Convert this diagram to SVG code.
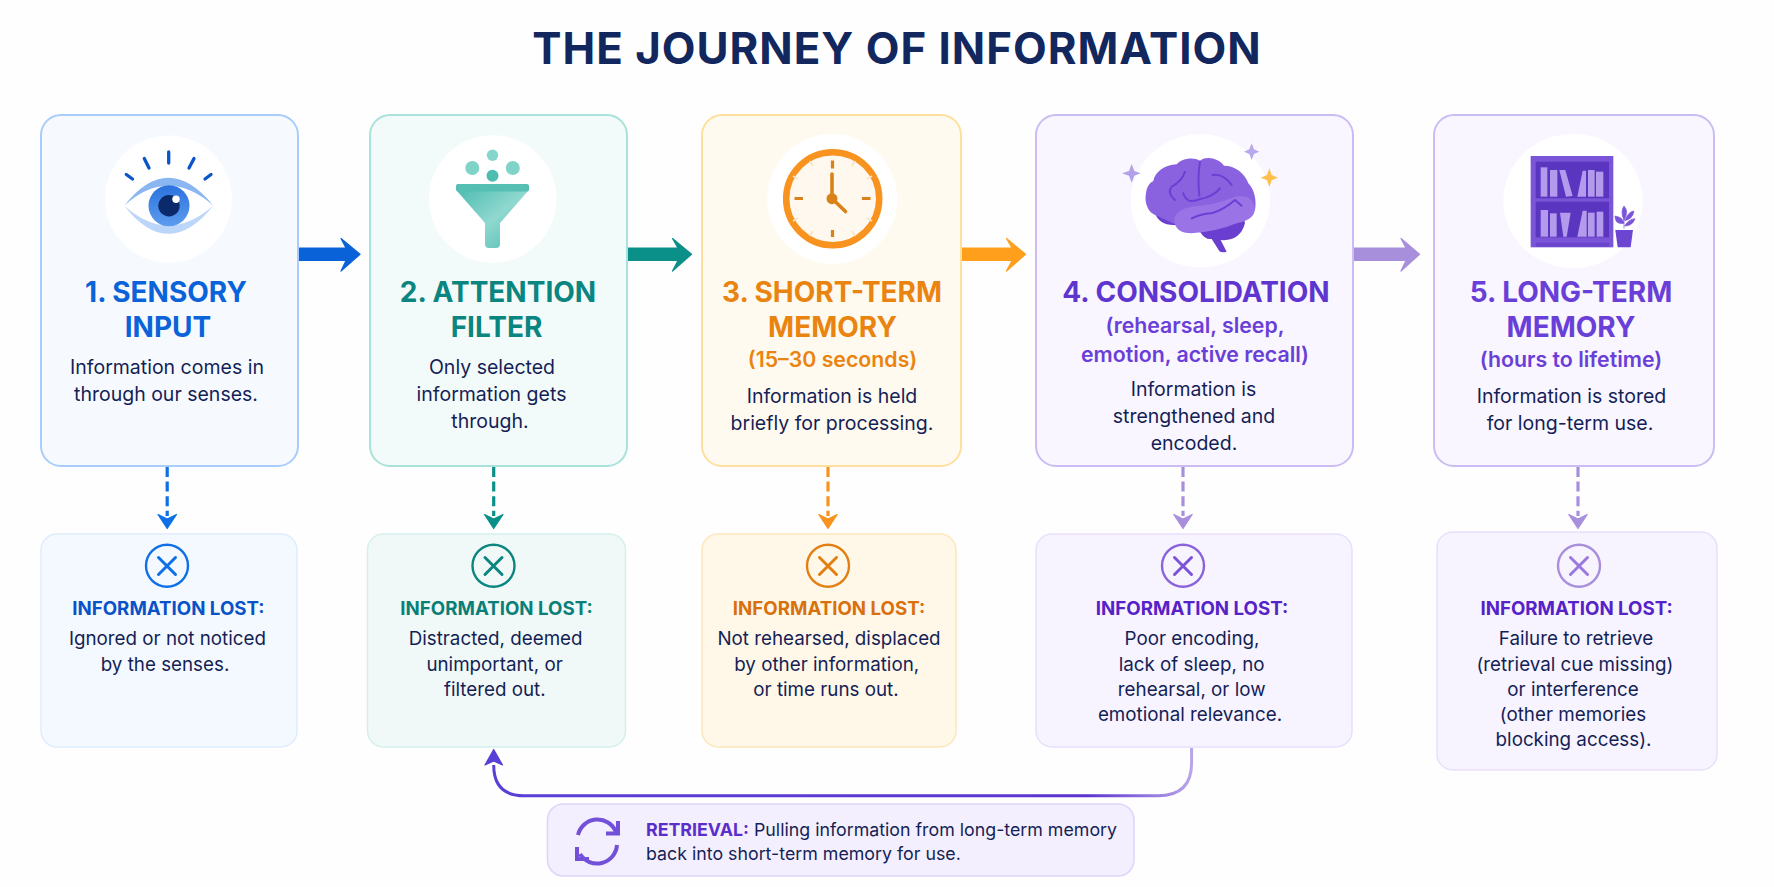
<svg xmlns="http://www.w3.org/2000/svg" width="1774" height="887" viewBox="0 0 1774 887">
<style>
text{font-family:"Inter","Liberation Sans",sans-serif;text-anchor:middle}
.title{font-size:43.800px;font-weight:700;fill:#12275e;letter-spacing:1px}
.h{font-size:28px;font-weight:700}
.s{font-size:21.300px;font-weight:600}
.b{font-size:19.500px;font-weight:400;fill:#141f56}
.l{font-size:18.700px;font-weight:700}
.d{font-size:18.800px;font-weight:400;fill:#141f56}
.r{font-size:17.800px;font-weight:400;fill:#141f56;text-anchor:start}
.card{stroke-width:2}
.loss{stroke-width:1.500}
.disc{fill:#fff}
.dash{fill:none;stroke-width:3.200;stroke-dasharray:10 4.600}
.x{fill:none;stroke-width:2.400}
.xx{fill:none;stroke-width:3;stroke-linecap:round}
.sulc{fill:none;stroke:#6b3fd3;stroke-width:6;stroke-linecap:round;stroke-linejoin:round}
.bk{fill:#b39aec}
.tip{stroke-width:1.200;stroke-linejoin:round}
</style>
<defs>
<linearGradient id="iris" x1="0" y1="0" x2="0" y2="1"><stop offset="0" stop-color="#2a72de"/><stop offset="1" stop-color="#5d9cee"/></linearGradient>
<linearGradient id="cone" x1="0" y1="0" x2="1" y2="1"><stop offset="0" stop-color="#4fbdb2"/><stop offset="0.5" stop-color="#8fd8cf"/><stop offset="1" stop-color="#4fbdb2"/></linearGradient>
<linearGradient id="ret" gradientUnits="userSpaceOnUse" x1="494" y1="0" x2="1192" y2="0"><stop offset="0" stop-color="#5a3fd6"/><stop offset="0.85" stop-color="#5b34d1"/><stop offset="1" stop-color="#b9a5e8"/></linearGradient>
</defs>
<rect width="1774" height="887" fill="#fefefe"/>
<text id="title" class="title" x="897" y="64">THE JOURNEY OF INFORMATION</text>

<g id="connectors">
<path class="tip" stroke="#0a62d8" d="M299 248H346L341 238.500L360 254.300L341 271L346 260.500H299Z" fill="#0a62d8"/>
<path class="tip" stroke="#0b8f89" d="M627.500 248H678L672.500 238.500L691.500 254.300L672.500 271L678 260.500H627.500Z" fill="#0b8f89"/>
<path class="tip" stroke="#ff9f1c" d="M962 248H1012L1006.500 238.500L1025.500 254.300L1006.500 271L1012 260.500H962Z" fill="#ff9f1c"/>
<path class="tip" stroke="#a88fdc" d="M1354 248H1406L1401 238.500L1419.500 254.300L1401 271L1406 260.500H1354Z" fill="#a88fdc"/>
<path class="dash" stroke="#0f6fe6" d="M167.200 467V516"/><path class="tip" stroke="#0f6fe6" d="M158 514.500L167.200 519L176.500 514.500L167.200 528.500Z" fill="#0f6fe6"/>
<path class="dash" stroke="#0b8f89" d="M493.700 467V516"/><path class="tip" stroke="#0b8f89" d="M484.500 514.500L493.700 519L503 514.500L493.700 528.500Z" fill="#0b8f89"/>
<path class="dash" stroke="#f7931e" d="M828 467V516"/><path class="tip" stroke="#f7931e" d="M818.800 514.500L828 519L837.200 514.500L828 528.500Z" fill="#f7931e"/>
<path class="dash" stroke="#a88fdc" d="M1183 467V516"/><path class="tip" stroke="#a88fdc" d="M1173.800 514.500L1183 519L1192.200 514.500L1183 528.500Z" fill="#a88fdc"/>
<path class="dash" stroke="#a88fdc" d="M1578 467V516"/><path class="tip" stroke="#a88fdc" d="M1568.800 514.500L1578 519L1587.200 514.500L1578 528.500Z" fill="#a88fdc"/>
<path d="M1191.600 748V763Q1191.600 795.700 1158 795.700H524Q493.700 795.700 493.700 765" fill="none" stroke="url(#ret)" stroke-width="3"/>
<path class="tip" stroke="#5a3fd6" d="M493.700 749.500L502.500 765L493.700 761L485 765Z" fill="#5a3fd6"/>
</g>

<g id="card1">
<rect class="card" x="41" y="115" width="257" height="351" rx="20" fill="#f6faff" stroke="#a9cdfb"/>
<circle class="disc" cx="168.400" cy="199" r="63.500"/>
<g fill="none" stroke="#0a55c8" stroke-width="3.300" stroke-linecap="round">
<path d="M168.700 152V163M144.300 158.500L149 168M194 158.500L189 168M126.300 174.500L132.500 179M211 174.500L205 179"/></g>
<path d="M124.300 205.700Q168 150 213.300 205.700Q168 166 124.300 205.700Z" fill="#8ab6f2"/>
<path d="M124.300 205.700Q168 262 213.300 205.700Q168 245 124.300 205.700Z" fill="#bcd6fa"/>
<circle cx="169" cy="205.700" r="20.500" fill="url(#iris)"/>
<circle cx="169" cy="205.700" r="10.700" fill="#0b2a6b"/>
<circle cx="176" cy="199.300" r="3.700" fill="#fff"/>
<text class="h" x="166" y="302" fill="#0b63d9">1. SENSORY</text>
<text class="h" x="168" y="337" fill="#0b63d9">INPUT</text>
<text class="b" x="167" y="374">Information comes in</text>
<text class="b" x="166" y="401">through our senses.</text>
</g>

<g id="card2">
<rect class="card" x="370" y="115" width="257" height="351" rx="20" fill="#f3fbfa" stroke="#a8e2da"/>
<circle class="disc" cx="492.700" cy="199" r="63.800"/>
<circle cx="492.500" cy="155.300" r="5.700" fill="#86d5cc"/>
<circle cx="472.300" cy="168" r="7" fill="#7fd3c9"/>
<circle cx="512.800" cy="168" r="7" fill="#7fd3c9"/>
<circle cx="492.500" cy="175.700" r="6" fill="#4dbdb2"/>
<path d="M457 191L485 223V244Q485 248 489 248H496Q500 248 500 244V223L528 191Z" fill="url(#cone)"/>
<rect x="456" y="184" width="73" height="7.500" rx="2" fill="#55bfb4"/>
<text class="h" x="498" y="302" fill="#0a8580">2. ATTENTION</text>
<text class="h" x="496.500" y="337" fill="#0a8580">FILTER</text>
<text class="b" x="492" y="374">Only selected</text>
<text class="b" x="491.500" y="401">information gets</text>
<text class="b" x="490" y="428">through.</text>
</g>

<g id="card3">
<rect class="card" x="702" y="115" width="259" height="351" rx="20" fill="#fffaf0" stroke="#ffdf9e"/>
<circle class="disc" cx="832.300" cy="199" r="65"/>
<circle cx="832.700" cy="198.700" r="46.500" fill="#fff8ee" stroke="#f7931e" stroke-width="6.500"/>
<g stroke="#fbe4c4" stroke-width="2"><path d="M855 161L852 166M872 176L867 179M872 221L867 218M855 236L852 231M810 236L813 231M793 221L798 218M793 176L798 179M810 161L813 166"/></g>
<g stroke="#d8821c" stroke-width="3.200"><path d="M832.500 160.500V168.500M832.500 230V237M794.500 198.500H803M862 198.500H870.500"/></g>
<path d="M832 174V198.500L845.500 211.500" fill="none" stroke="#d9821a" stroke-width="3.600" stroke-linecap="round"/>
<circle cx="832" cy="198.700" r="5.500" fill="#d9821a"/>
<text class="h" x="832" y="302" fill="#ea8410">3. SHORT-TERM</text>
<text class="h" x="832.500" y="337" fill="#ea8410">MEMORY</text>
<text class="s" x="832.500" y="366.500" fill="#ea8410">(15–30 seconds)</text>
<text class="b" x="832" y="403">Information is held</text>
<text class="b" x="832" y="430">briefly for processing.</text>
</g>

<g id="card4">
<rect class="card" x="1036" y="115" width="317" height="351" rx="20" fill="#f9f6ff" stroke="#cbbdf4"/>
<ellipse class="disc" cx="1200.400" cy="200.800" rx="69.600" ry="66.600"/>
<g transform="translate(1120 125) scale(0.3333)">
<path d="M105 265Q118 302 165 300L240 320Q255 345 275 342L298 378Q305 384 320 380L302 345Q360 350 375 295L370 270Z" fill="#6a3fd0"/>
<path d="M110 272C85 265 72 235 78 205C80 185 90 172 100 168C105 140 135 120 170 118C185 100 220 95 240 107C260 92 295 100 312 122C345 122 375 145 385 175C405 195 410 230 405 255L290 300L170 300Z" fill="#8a62e0"/>
<path d="M163 285Q165 255 215 245Q290 240 345 215Q395 205 405 250Q405 285 350 295Q290 320 215 325Q165 325 163 285Z" fill="#9a74e6"/>
<path class="sulc" d="M240 110Q232 160 238 212M195 140Q185 170 155 185Q140 205 165 225M190 205Q200 240 240 222Q280 215 300 190M278 150Q310 145 335 180M215 280Q250 265 275 265Q310 255 345 225L365 242"/>
<path d="M35 117L43 138L62 145L43 152L35 173L27 152L6 145L27 138Z" fill="#b3a0e8"/>
<path d="M395 55L402 73L418 80L402 87L395 105L388 87L372 80L388 73Z" fill="#b9a8ec"/>
<path d="M448 130L455 150L474 158L455 166L448 186L441 166L422 158L441 150Z" fill="#ffc04d"/>
</g>
<text class="h" x="1196" y="302" fill="#5f35d0">4. CONSOLIDATION</text>
<text class="s" x="1195" y="333" fill="#6a3fd8">(rehearsal, sleep,</text>
<text class="s" x="1195" y="361.500" fill="#6a3fd8">emotion, active recall)</text>
<text class="b" x="1193.500" y="396">Information is</text>
<text class="b" x="1194" y="423">strengthened and</text>
<text class="b" x="1194" y="449.500">encoded.</text>
</g>

<g id="card5">
<rect class="card" x="1434" y="115" width="280" height="351" rx="20" fill="#f9f6ff" stroke="#cbbdf4"/>
<ellipse class="disc" cx="1573" cy="201" rx="69.700" ry="67"/>
<g transform="translate(1500 130) scale(0.3333)">
<rect x="92" y="78" width="248" height="274" fill="#7a55d8"/>
<rect x="107" y="95" width="220" height="110" fill="#5a35bf"/>
<rect x="107" y="215" width="220" height="107" fill="#5a35bf"/>
<rect x="107" y="338" width="220" height="12" fill="#6a44cc"/>
<rect class="bk" x="122" y="112" width="20" height="88"/>
<rect class="bk" x="150" y="120" width="22" height="80"/>
<path class="bk" d="M178 120H196L218 198L198 200Z"/>
<path class="bk" d="M248 122H258V200H232Z"/>
<rect class="bk" x="264" y="120" width="20" height="80"/>
<rect class="bk" x="288" y="125" width="22" height="75"/>
<rect class="bk" x="122" y="240" width="22" height="80"/>
<rect class="bk" x="150" y="250" width="20" height="70"/>
<path class="bk" d="M180 248H212L200 320H190Z"/>
<path class="bk" d="M248 242H260V320H232Z"/>
<rect class="bk" x="264" y="248" width="20" height="72"/>
<rect class="bk" x="290" y="245" width="20" height="75"/>
<path d="M372 296V260M372 280Q345 285 345 258Q370 262 372 280M372 270Q360 245 372 228Q388 245 372 270M374 272Q385 245 402 243Q398 268 374 272M374 288Q385 268 405 266Q398 288 374 288" fill="#7a55d8" stroke="#7a55d8" stroke-width="2"/>
<path d="M346 300H399L392 352H353Z" fill="#6d45d3"/>
</g>
<text class="h" x="1571" y="302" fill="#6a3fd8">5. LONG-TERM</text>
<text class="h" x="1571" y="337" fill="#6a3fd8">MEMORY</text>
<text class="s" x="1571" y="366.500" fill="#6a3fd8">(hours to lifetime)</text>
<text class="b" x="1571.500" y="403">Information is stored</text>
<text class="b" x="1570" y="430">for long-term use.</text>
</g>

<g id="loss1">
<rect class="loss" x="41" y="534" width="256" height="213" rx="16" fill="#f4f9ff" stroke="#deedfd"/>
<circle class="x" cx="167" cy="565.700" r="21" stroke="#0f6fe6"/>
<path class="xx" d="M158.500 557.500L175.500 574.500M175.500 557.500L158.500 574.500" stroke="#0f6fe6"/>
<text class="l" x="168.400" y="615" fill="#0a52c8">INFORMATION LOST:</text>
<text class="d" x="167.400" y="645">Ignored or not noticed</text>
<text class="d" x="165" y="671">by the senses.</text>
</g>
<g id="loss2">
<rect class="loss" x="367.500" y="534" width="258" height="213" rx="16" fill="#f0f9f7" stroke="#d5f0ec"/>
<circle class="x" cx="493.500" cy="565.700" r="21" stroke="#0a8580"/>
<path class="xx" d="M485 557.500L502 574.500M502 557.500L485 574.500" stroke="#0a8580"/>
<text class="l" x="496.500" y="615" fill="#0a7f78">INFORMATION LOST:</text>
<text class="d" x="495.600" y="645">Distracted, deemed</text>
<text class="d" x="494.600" y="671">unimportant, or</text>
<text class="d" x="494.800" y="696">filtered out.</text>
</g>
<g id="loss3">
<rect class="loss" x="702" y="534" width="254" height="213" rx="16" fill="#fff7e8" stroke="#fde6bc"/>
<circle class="x" cx="828" cy="565.700" r="21" stroke="#e27f12"/>
<path class="xx" d="M819.500 557.500L836.500 574.500M836.500 557.500L819.500 574.500" stroke="#e27f12"/>
<text class="l" x="829" y="615" fill="#d9700c">INFORMATION LOST:</text>
<text class="d" x="829" y="645">Not rehearsed, displaced</text>
<text class="d" x="826.700" y="671">by other information,</text>
<text class="d" x="826" y="696">or time runs out.</text>
</g>
<g id="loss4">
<rect class="loss" x="1036" y="534" width="316" height="213" rx="16" fill="#f7f3ff" stroke="#e8e0fb"/>
<circle class="x" cx="1183" cy="565.700" r="21" stroke="#8a63dc"/>
<path class="xx" d="M1174.500 557.500L1191.500 574.500M1191.500 557.500L1174.500 574.500" stroke="#7d52d8"/>
<text class="l" x="1192" y="615" fill="#5522c8">INFORMATION LOST:</text>
<text class="d" x="1192" y="645">Poor encoding,</text>
<text class="d" x="1191.600" y="671">lack of sleep, no</text>
<text class="d" x="1191.700" y="696">rehearsal, or low</text>
<text class="d" x="1190" y="721">emotional relevance.</text>
</g>
<g id="loss5">
<rect class="loss" x="1437" y="532" width="280" height="238" rx="16" fill="#f7f3ff" stroke="#e8e0fb"/>
<circle class="x" cx="1579" cy="565.700" r="21" stroke="#a88fdc"/>
<path class="xx" d="M1570.500 557.500L1587.500 574.500M1587.500 557.500L1570.500 574.500" stroke="#9a78e0"/>
<text class="l" x="1576.600" y="615" fill="#5522c8">INFORMATION LOST:</text>
<text class="d" x="1576" y="645">Failure to retrieve</text>
<text class="d" x="1575" y="671">(retrieval cue missing)</text>
<text class="d" x="1573" y="696">or interference</text>
<text class="d" x="1573" y="721">(other memories</text>
<text class="d" x="1573.500" y="746">blocking access).</text>
</g>
<g id="retrieval">
<rect x="547.500" y="804" width="586.500" height="72" rx="16" fill="#f4effe" stroke="#e0d5f8" stroke-width="1.600"/>
<g fill="none" stroke="#7350d8" stroke-width="4">
<path d="M578 835A20 20 0 0 1 616 832"/>
<path d="M617 845A20 20 0 0 1 580 854"/>
<path d="M618 821V833.500H606M577 847V859H589"/>
</g>
<text class="r" x="646" y="836"><tspan font-weight="700" fill="#5b2ecb">RETRIEVAL:</tspan> Pulling information from long-term memory</text>
<text class="r" x="646" y="860">back into short-term memory for use.</text>
</g>
</svg>
